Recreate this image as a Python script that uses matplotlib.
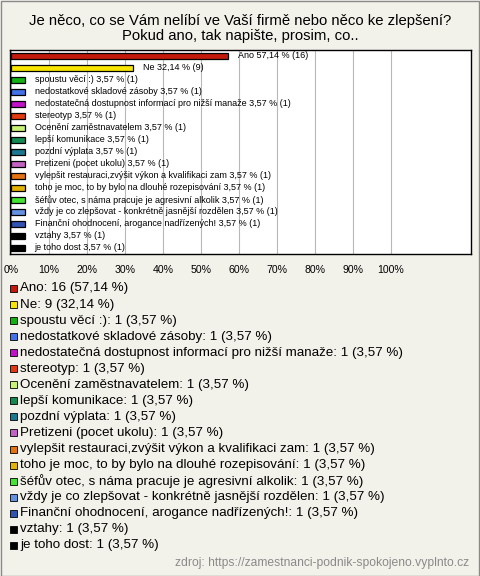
import matplotlib
matplotlib.use("Agg")
import matplotlib.pyplot as plt
from matplotlib.patches import Rectangle

# answers and their counts (28 respondents)
labels = [
    "Ano", "Ne", "spoustu věcí :)", "nedostatkové skladové zásoby",
    "nedostatečná dostupnost informací pro nižší manaže", "stereotyp",
    "Ocenění zaměstnavatelem", "lepší komunikace", "pozdní výplata",
    "Pretizeni (pocet ukolu)", "vylepšit restauraci,zvýšit výkon a kvalifikaci zam",
    "toho je moc, to by bylo na dlouhé rozepisování",
    "šéfův otec, s náma pracuje je agresivní alkolik",
    "vždy je co zlepšovat - konkrétně jasnější rozdělen",
    "Finanční ohodnocení, arogance nadřízených!", "vztahy", "je toho dost",
]
counts = [16, 9, 1, 1, 1, 1, 1, 1, 1, 1, 1, 1, 1, 1, 1, 1, 1]
respondents = 28
colors = [
    "#c41a0c", "#f8e600", "#14b014", "#4272e6", "#c012c8", "#e23a10",
    "#c8f274", "#148a52", "#1c7890", "#c462c4", "#e27212", "#e2b204",
    "#44e432", "#6492e0", "#3252b2", "#000000", "#000000",
]
xticks = [0, 10, 20, 30, 40, 50, 60, 70, 80, 90, 100]

title_lines = ["Je něco, co se Vám nelíbí ve Vaší firmě nebo něco ke zlepšení?",
               "Pokud ano, tak napište, prosim, co.."]
source = "zdroj: https://zamestnanci-podnik-spokojeno.vyplnto.cz"

pcts = [c / respondents * 100 for c in counts]


def fmt(p):
    return f"{p:.2f}".replace(".", ",")


plt.rcParams['font.family'] = ['Liberation Sans', 'DejaVu Sans']
W, H = 480, 576
fig = plt.figure(figsize=(W / 100, H / 100), dpi=100)
bg = "#f3f2ea"
fig.patch.set_facecolor(bg)
fig.patches.append(Rectangle((0.5 / W, 0.5 / H), 1 - 1.5 / W, 1 - 1.5 / H, transform=fig.transFigure,
                             fill=False, edgecolor="#8a8a8a", linewidth=1))

fig.text(0.5, 1 - 21 / H, title_lines[0], ha="center", va="center", fontsize=10.7)
fig.text(0.5, 1 - 36 / H, title_lines[1], ha="center", va="center", fontsize=10.7)

ax = fig.add_axes([10 / W, 1 - 254 / H, 461 / W, 204 / H])
ax.set_facecolor("white")
ypos = list(range(len(labels)))
ax.barh(ypos, pcts, height=0.55, color=colors, edgecolor="black", linewidth=0.9, zorder=3)
for y, lab, p, c in zip(ypos, labels, pcts, counts):
    ax.text(p + 2.6, y, f"{lab} {fmt(p)} % ({c})", va="center", ha="left", fontsize=6.5, zorder=4)
ax.set_xlim(-0.3, 121.1)
ax.set_ylim(len(labels) - 0.5, -0.5)
ax.set_yticks([])
ax.set_xticks(xticks)
ax.set_xticklabels([f"{t}%" for t in xticks], fontsize=7.6)
ax.tick_params(axis="x", length=0, pad=8)
ax.grid(axis="x", color="#b8b8b8", linewidth=0.8, zorder=0)
for s in ax.spines.values():
    s.set_color("black")
    s.set_linewidth(1)

# legend list below the chart
y0 = 288.5
step = 16.05
for i, (lab, p, c, col) in enumerate(zip(labels, pcts, counts, colors)):
    yy = 1 - (y0 + i * step) / H
    fig.patches.append(Rectangle((10 / W, yy - 3.5 / H), 7 / W, 7 / H, transform=fig.transFigure,
                                 facecolor=col, edgecolor="black", linewidth=0.6))
    fig.text(20 / W, yy, f"{lab}: {c} ({fmt(p)} %)", va="center", ha="left", fontsize=9.6)

fig.text(469 / W, 1 - 563 / H, source, ha="right", va="center", fontsize=8.7, color="#8a8a8a")

fig.savefig("out.png", dpi=100, facecolor=bg)
